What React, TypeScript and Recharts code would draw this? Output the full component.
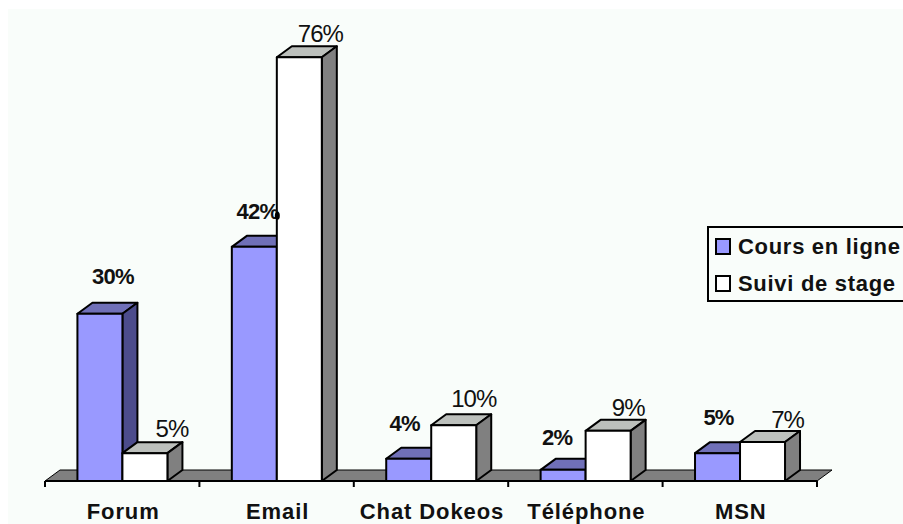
import React from "react";
import { Bar, BarChart, LabelList, Legend, ReferenceArea, XAxis, YAxis } from "recharts";

const categories = ["Forum", "Email", "Chat Dokeos", "Téléphone", "MSN"];
const coursEnLigne = [30, 42, 4, 2, 5];
const suiviDeStage = [5, 76, 10, 9, 7];

const rows = categories.map((name, i) => ({
  name,
  cours: coursEnLigne[i],
  suivi: suiviDeStage[i],
}));

// hand tweaks: where the old chart put each label, relative to the bar's centre/top
const coursLabelShift = [
  [13, -37],
  [3, -35],
  [-4, -35],
  [-6, -32],
  [1, -36],
];
const suiviLabelShift = [
  [27, -25],
  [21, -24],
  [20, -27],
  [20, -23],
  [25, -22],
];

const DX = 15;
const DY = 11;
const FONT = "'Liberation Sans', Arial, sans-serif";

function box3d(front: string, top: string, side: string) {
  return (props: any) => {
    const { x, y, width, height } = props;
    return (
      <g stroke="#000" strokeWidth={2} strokeLinejoin="round">
        <path d={`M${x} ${y}l${DX} ${-DY}h${width}l${-DX} ${DY}z`} fill={top} />
        <path d={`M${x + width} ${y}l${DX} ${-DY}v${height}l${-DX} ${DY}z`} fill={side} />
        <rect x={x} y={y} width={width} height={height} fill={front} />
      </g>
    );
  };
}

function Floor(props: any) {
  const { x, y, width, height } = props;
  const step = width / categories.length;
  const base = y + height;
  return (
    <g>
      <path d={`M${x} ${base}l${DX} ${-DY}h${width}l${-DX} ${DY}z`} fill="#808080" stroke="#000" strokeWidth={1} />
      {[...categories, ""].map((_, i) => (
        <line key={i} x1={x + step * i} x2={x + step * i} y1={base} y2={base + 6} stroke="#000" strokeWidth={2} />
      ))}
    </g>
  );
}

function pctLabel(shifts: number[][], bold: boolean) {
  return (props: any) => {
    const { x, y, width, value, index } = props;
    const [sx, sy] = shifts[index];
    const cx = x + width / 2 + sx;
    const cy = y + sy;
    return (
      <g>
        <text
          x={cx}
          y={cy}
          textAnchor="middle"
          dominantBaseline="central"
          fontFamily={FONT}
          fontSize={bold ? 22 : 24}
          fontWeight={bold ? 700 : 400}
          letterSpacing={bold ? -0.8 : -1}
          fill="#111"
        >
          {value}%
        </text>
        {/* the ink blot on the 42% label, it is in the original */}
        {bold && index === 1 ? <ellipse cx={cx + 20} cy={cy + 4} rx={2.5} ry={4} fill="#000" /> : null}
      </g>
    );
  };
}

function CategoryTick(props: any) {
  const { x, y, payload } = props;
  return (
    <text x={x + 1} y={y + 30} textAnchor="middle" fontFamily={FONT} fontSize={22} fontWeight={700} letterSpacing={0.9} fill="#111">
      {payload.value}
    </text>
  );
}

function LegendBox() {
  const items = [
    { label: "Cours en ligne", color: "#9999ff" },
    { label: "Suivi de stage", color: "#ffffff" },
  ];
  return (
    <div
      style={{
        border: "2px solid #000",
        width: 220,
        height: 72,
        boxSizing: "content-box",
        fontFamily: FONT,
        fontSize: 22,
        fontWeight: 700,
        letterSpacing: 0.7,
        color: "#111",
      }}
    >
      {items.map((it) => (
        <div key={it.label} style={{ display: "flex", alignItems: "center", height: 37, whiteSpace: "nowrap" }}>
          <span
            style={{
              display: "inline-block",
              width: 12,
              height: 13,
              margin: "0 7px 0 6px",
              background: it.color,
              border: "2px solid #000",
            }}
          />
          {it.label}
        </div>
      ))}
    </div>
  );
}

export default function App() {
  return (
    <div style={{ position: "absolute", left: 0, top: 0, width: 903, height: 524, overflow: "hidden", background: "#fff" }}>
      <div style={{ position: "absolute", left: 8, top: 9, width: 895, height: 515, background: "#f9fdfa" }} />
      <BarChart
        width={903}
        height={524}
        data={rows}
        margin={{ top: 35, right: 86, left: 45, bottom: 0 }}
        barCategoryGap="21%"
        barGap={0}
      >
        <XAxis
          dataKey="name"
          axisLine={{ stroke: "#000", strokeWidth: 2 }}
          tickLine={false}
          interval={0}
          height={43}
          tick={<CategoryTick />}
        />
        <YAxis hide domain={[0, 80]} width={0} />
        <ReferenceArea y1={0} y2={2} shape={<Floor />} ifOverflow="visible" />
        <Legend
          layout="vertical"
          align="center"
          verticalAlign="middle"
          wrapperStyle={{ position: "absolute", left: 707, top: 226, width: 224 }}
          content={<LegendBox />}
        />
        <Bar dataKey="cours" isAnimationActive={false} shape={box3d("#9999ff", "#7070b8", "#4c4c8c")}>
          <LabelList dataKey="cours" content={pctLabel(coursLabelShift, true)} />
        </Bar>
        <Bar dataKey="suivi" isAnimationActive={false} shape={box3d("#ffffff", "#bcc0bc", "#808080")}>
          <LabelList dataKey="suivi" content={pctLabel(suiviLabelShift, false)} />
        </Bar>
      </BarChart>
    </div>
  );
}
